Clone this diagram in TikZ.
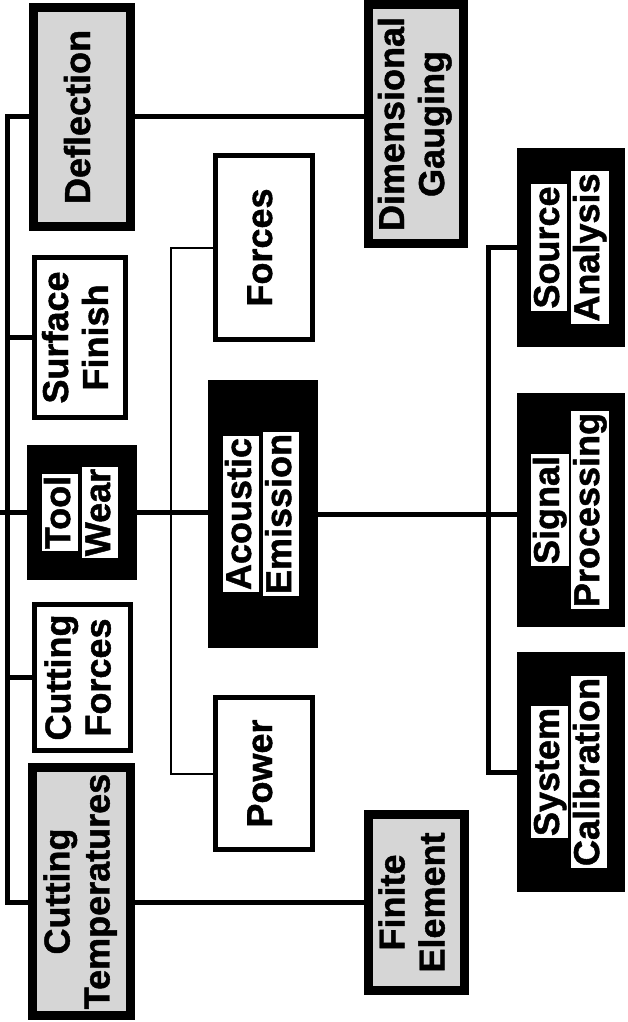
\documentclass[tikz,border=0pt]{standalone}
\usepackage{graphicx}
\usepackage{fontspec}
\setmainfont{Liberation Sans}[BoldFeatures={FakeBold=1.3}]
\newcommand\rt[1]{\rotatebox{90}{\setlength\tabcolsep{0pt}\begin{tabular}{c}#1\end{tabular}}}
\newcommand\hl[1]{{\fboxsep=2pt\colorbox{white}{\rule[-6pt]{0pt}{32pt}#1}}}
\tikzset{
  box/.style={inner sep=0pt, outer sep=0pt, font=\bfseries\fontsize{36}{40}\selectfont},
  graybox/.style={box, draw=black, line width=9pt, fill=black!16},
  whitebox/.style={box, draw=black, line width=5pt, fill=white},
  blackbox/.style={box, draw=black, line width=1pt, fill=black},
  conn/.style={line width=5pt},
  thinconn/.style={line width=2pt},
}
\begin{document}
\begin{tikzpicture}[x=1pt, y=-1pt]
\useasboundingbox (0,0) rectangle (627,1022);
% column 1
\node[graybox, minimum width=97, minimum height=219] (defl) at (82,117) {\rt{Deflection}};
\node[whitebox, minimum width=91, minimum height=160] (surf) at (80,337.5) {\rt{Surface\\Finish}};
\node[blackbox, minimum width=109, minimum height=134] (tool) at (82,512.5) {\rt{\hl{Tool}\\\hl{Wear}}};
\node[whitebox, minimum width=96, minimum height=146] (cforce) at (82.5,677.5) {\rt{Cutting\\Forces}};
\node[graybox, minimum width=98, minimum height=248] (ctemp) at (81.5,891.5) {\rt{Cutting\\Temperatures}};
% column 2
\node[whitebox, minimum width=97, minimum height=184] (forces) at (264,247.5) {\rt{Forces}};
\node[blackbox, minimum width=109, minimum height=267] (ae) at (263,514) {\rt{\hl{Acoustic}\\\hl{Emission}}};
\node[whitebox, minimum width=97, minimum height=152] (power) at (264,773.5) {\rt{Power}};
% column 3
\node[graybox, minimum width=95, minimum height=239] (dim) at (416,124) {\rt{Dimensional\\Gauging}};
\node[graybox, minimum width=96, minimum height=176] (fin) at (416.5,902.5) {\rt{Finite\\Element}};
% column 4
\node[blackbox, minimum width=107, minimum height=198] (src) at (571,247.5) {\rt{\hl{Source}\\\hl{Analysis}}};
\node[blackbox, minimum width=107, minimum height=233] (sig) at (571,510) {\rt{\hl{Signal}\\\hl{Processing}}};
\node[blackbox, minimum width=107, minimum height=239] (sys) at (571,772) {\rt{\hl{System}\\\hl{Calibration}}};
% trunk coordinates
\coordinate (lt) at (7,117);
\coordinate (lb) at (7,902);
\coordinate (lft) at (0,512.5);
\coordinate (m1) at (171,0);
\coordinate (r1) at (488,0);
% connectors
\draw[conn] (defl.west) -- (lt) -- (lb) -- (lb -| ctemp.west);
\draw[conn] (surf.west) -- (surf.west -| lt);
\draw[conn] (lft) -- (tool.west);
\draw[conn] (cforce.west) -- (cforce.west -| lt);
\draw[conn] (defl.east) -- (defl.east -| dim.west);
\draw[conn] (ctemp.east |- fin.west) -- (fin.west);
\draw[conn] (tool.east) -- (tool.east -| ae.west);
\draw[thinconn] (forces.west) -- (forces.west -| m1) -- (power.west -| m1) -- (power.west);
\draw[conn] (ae.east) -- (ae.east -| sig.west);
\draw[conn] (src.west) -- (src.west -| r1) -- (sys.west -| r1) -- (sys.west);
\end{tikzpicture}
\end{document}
